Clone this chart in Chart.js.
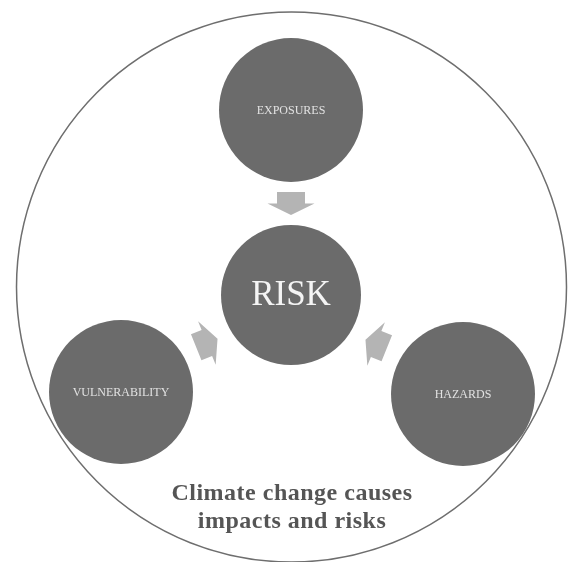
<!DOCTYPE html>
<html>
<head>
<meta charset="utf-8">
<script src="https://cdn.jsdelivr.net/npm/chart.js@4"></script>
<style>
  html, body { margin: 0; padding: 0; background: #ffffff; }
  #wrap { width: 570px; height: 562px; position: relative; }
</style>
</head>
<body>
<div id="wrap"><canvas id="c" width="570" height="562"></canvas></div>
<script>
// ---- data ----
const nodeLabels = ["EXPOSURES", "RISK", "VULNERABILITY", "HAZARDS"];
const nodeX = [291, 291, 121, 463];
const nodeY = [110, 295, 392, 394];
const nodeR = [72, 70, 72, 72];
const arrowSources = ["EXPOSURES", "VULNERABILITY", "HAZARDS"];
const arrowAngles = [90, -22, 202];   // direction each arrow points (degrees)
const arrowTarget = "RISK";
const outerX = [291.5];
const outerY = [287];
const outerR = [275];
const captionLines = ["Climate change causes", "impacts and risks"];
const captionX = 292;
const captionY = [500, 528];

const nodeData = nodeLabels.map((l, i) => ({ x: nodeX[i], y: nodeY[i], r: nodeR[i], label: l }));
const outerData = outerX.map((x, i) => ({ x: x, y: outerY[i], r: outerR[i] }));

const diagramPlugin = {
  id: 'diagram',
  afterDatasetsDraw(chart) {
    const ctx = chart.ctx;
    const xs = chart.scales.x, ys = chart.scales.y;
    const px = i => xs.getPixelForValue(nodeX[i]);
    const py = i => ys.getPixelForValue(nodeY[i]);
    const ti = nodeLabels.indexOf(arrowTarget);
    // arrows, centred in the gap between each source circle and the target
    ctx.save();
    ctx.fillStyle = '#b4b4b4';
    arrowSources.forEach((src, k) => {
      const si = nodeLabels.indexOf(src);
      const sx = px(si), sy = py(si), tx = px(ti), ty = py(ti);
      const dx = tx - sx, dy = ty - sy;
      const d = Math.hypot(dx, dy);
      const ux = dx / d, uy = dy / d;
      const m = (nodeR[si] + (d - nodeR[ti])) / 2;
      const cx = sx + ux * m, cy = sy + uy * m;
      ctx.save();
      ctx.translate(cx, cy);
      ctx.rotate(arrowAngles[k] * Math.PI / 180);
      ctx.beginPath();
      ctx.moveTo(-11.5, -14);
      ctx.lineTo(0, -14);
      ctx.lineTo(0, -23.5);
      ctx.lineTo(11.5, 0);
      ctx.lineTo(0, 23.5);
      ctx.lineTo(0, 14);
      ctx.lineTo(-11.5, 14);
      ctx.closePath();
      ctx.fill();
      ctx.restore();
    });
    ctx.restore();
    // node labels
    ctx.save();
    ctx.textAlign = 'center';
    ctx.textBaseline = 'middle';
    nodeLabels.forEach((l, i) => {
      if (l === arrowTarget) {
        ctx.font = '35px "Liberation Serif", serif';
        ctx.fillStyle = '#f4f4f4';
        ctx.fillText(l, px(i), py(i) + 1);
      } else {
        ctx.font = '12px "Liberation Serif", serif';
        ctx.fillStyle = '#e2e2e2';
        ctx.fillText(l, px(i), py(i) + 1);
      }
    });
    // caption
    ctx.font = 'bold 24px "Liberation Serif", serif';
    try { ctx.letterSpacing = '0.5px'; } catch (e) {}
    ctx.fillStyle = '#555555';
    ctx.textBaseline = 'alphabetic';
    captionLines.forEach((t, i) => {
      ctx.fillText(t, xs.getPixelForValue(captionX), ys.getPixelForValue(captionY[i]));
    });
    ctx.restore();
  }
};

new Chart(document.getElementById('c'), {
  type: 'bubble',
  data: {
    datasets: [
      {
        label: 'outer',
        data: outerData,
        backgroundColor: 'rgba(255,255,255,0)',
        borderColor: '#6e6e6e',
        borderWidth: 1.5,
        clip: false,
        order: 2
      },
      {
        label: 'nodes',
        data: nodeData,
        backgroundColor: '#6b6b6b',
        borderColor: '#6b6b6b',
        borderWidth: 0,
        clip: false,
        order: 1
      }
    ]
  },
  options: {
    responsive: false,
    animation: false,
    events: [],
    layout: { padding: 0, autoPadding: false },
    plugins: { legend: { display: false }, tooltip: { enabled: false }, title: { display: false } },
    scales: {
      x: { type: 'linear', min: 0, max: 570, display: false },
      y: { type: 'linear', min: 0, max: 562, reverse: true, display: false }
    }
  },
  plugins: [diagramPlugin]
});
</script>
</body>
</html>
